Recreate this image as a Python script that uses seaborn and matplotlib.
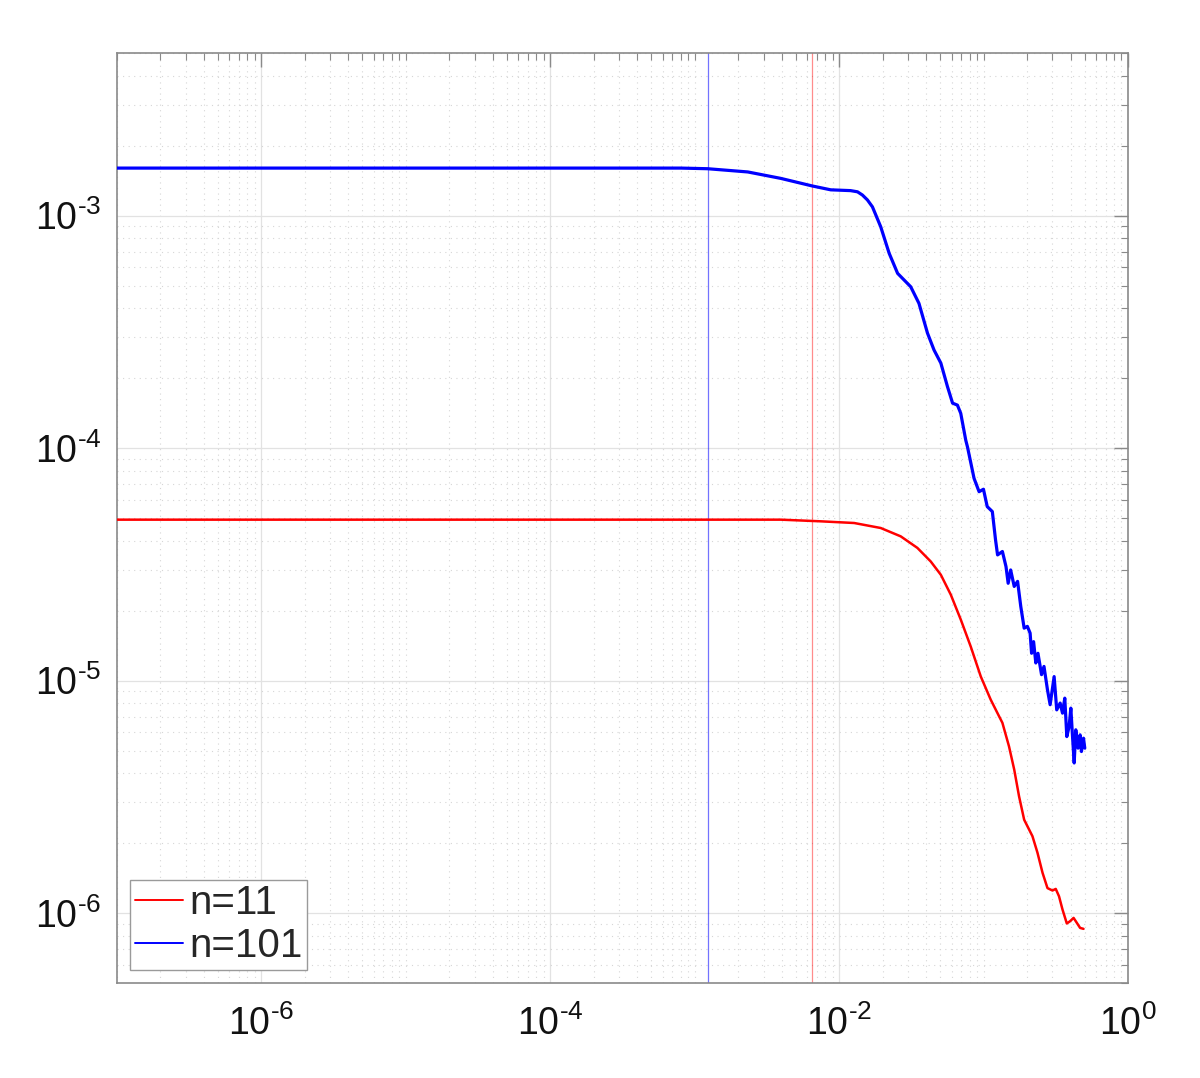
import numpy as np
import pandas as pd
import matplotlib
matplotlib.use("Agg")
import matplotlib.pyplot as plt
import seaborn as sns
from matplotlib.lines import Line2D
from matplotlib.ticker import LogLocator, NullFormatter, FixedLocator, FuncFormatter

# values (log-log)
x_n11 = [1e-7, 3.94e-3, 7.46e-3, 1.27e-2, 1.94e-2, 2.67e-2, 3.48e-2, 4.31e-2,
         5.06e-2, 5.93e-2, 6.95e-2, 8.15e-2, 9.57e-2, 0.112, 0.128, 0.135, 0.150,
         0.163, 0.176, 0.191, 0.218, 0.236, 0.256, 0.277, 0.300, 0.316, 0.333,
         0.352, 0.377, 0.397, 0.420, 0.442, 0.466, 0.492]
y_n11 = [4.92e-5, 4.92e-5, 4.84e-5, 4.76e-5, 4.53e-5, 4.17e-5, 3.72e-5, 3.25e-5,
         2.85e-5, 2.34e-5, 1.83e-5, 1.40e-5, 1.04e-5, 8.28e-6, 7.02e-6, 6.58e-6,
         5.21e-6, 4.14e-6, 3.18e-6, 2.52e-6, 2.14e-6, 1.82e-6, 1.49e-6, 1.28e-6,
         1.25e-6, 1.27e-6, 1.18e-6, 1.035e-6, 9.02e-7, 9.22e-7, 9.53e-7, 9.08e-7,
         8.63e-7, 8.55e-7]

x_n101 = [1e-7, 8.0e-4, 1.23e-3, 2.33e-3, 3.94e-3, 6.53e-3, 8.75e-3, 1.20e-2,
          1.34e-2, 1.45e-2, 1.57e-2, 1.70e-2, 1.94e-2, 2.22e-2, 2.54e-2, 3.13e-2,
          3.57e-2, 4.09e-2, 4.54e-2, 5.06e-2, 5.62e-2, 6.10e-2, 6.59e-2, 6.95e-2,
          7.53e-2, 7.74e-2, 8.59e-2, 9.31e-2, 9.98e-2, 0.106, 0.115, 0.121, 0.125,
          0.135, 0.143, 0.148, 0.154, 0.163, 0.172, 0.181, 0.191, 0.201, 0.210,
          0.215, 0.222, 0.230, 0.238, 0.252, 0.262, 0.277, 0.289, 0.308, 0.321,
          0.339, 0.352, 0.365, 0.377, 0.391, 0.402, 0.413, 0.424, 0.435, 0.451,
          0.466, 0.476, 0.492, 0.502]
y_n101 = [1.6e-3, 1.6e-3, 1.59e-3, 1.54e-3, 1.445e-3, 1.34e-3, 1.29e-3, 1.28e-3,
          1.265e-3, 1.225e-3, 1.167e-3, 1.09e-3, 8.95e-4, 6.88e-4, 5.64e-4,
          4.94e-4, 4.19e-4, 3.12e-4, 2.64e-4, 2.32e-4, 1.84e-4, 1.56e-4, 1.53e-4,
          1.41e-4, 1.08e-4, 1.01e-4, 7.41e-5, 6.49e-5, 6.65e-5, 5.60e-5, 5.33e-5,
          4.03e-5, 3.47e-5, 3.59e-5, 3.09e-5, 2.62e-5, 2.99e-5, 2.54e-5, 2.67e-5,
          2.08e-5, 1.68e-5, 1.71e-5, 1.60e-5, 1.31e-5, 1.47e-5, 1.19e-5, 1.31e-5,
          1.06e-5, 1.15e-5, 9.12e-6, 7.87e-6, 1.04e-5, 7.48e-6, 8.0e-6, 7.24e-6,
          8.40e-6, 5.74e-6, 6.34e-6, 7.61e-6, 5.74e-6, 4.42e-6, 6.14e-6, 5.12e-6,
          5.84e-6, 4.95e-6, 5.65e-6, 5.12e-6]

cutoff_n11 = 6.52e-3
cutoff_n101 = 1.23e-3
labels = ["n=11", "n=101"]
colors = {"n=11": "red", "n=101": "blue"}
widths = {"n=11": 1.8, "n=101": 2.3}

df = pd.concat([
    pd.DataFrame({"x": x_n11, "y": y_n11, "n": labels[0]}),
    pd.DataFrame({"x": x_n101, "y": y_n101, "n": labels[1]}),
], ignore_index=True)

sns.set_style("white")
plt.rcParams["font.family"] = ["Liberation Sans", "DejaVu Sans"]
plt.rcParams["mathtext.fontset"] = "custom"
plt.rcParams["mathtext.rm"] = "Liberation Sans"
plt.rcParams["mathtext.it"] = "Liberation Sans:italic"
plt.rcParams["mathtext.bf"] = "Liberation Sans:bold"


def pow10(v, pos):
    e = int(round(np.log10(v)))
    if e < 0:
        return r"$\mathregular{10^{\text{-}%d}}$" % (-e)
    return r"$\mathregular{10^{%d}}$" % e


fig = plt.figure(figsize=(12, 10.78), dpi=100)
ax = fig.add_axes([0.0975, 0.0881, 0.8425, 0.8627])
ax.set_xscale("log")
ax.set_yscale("log")

ax.axvline(cutoff_n101, color="blue", lw=0.9, alpha=0.55, zorder=2)
ax.axvline(cutoff_n11, color="red", lw=0.9, alpha=0.45, zorder=2)

for lab in labels:
    sns.lineplot(data=df[df["n"] == lab], x="x", y="y", color=colors[lab],
                 estimator=None, sort=False, lw=widths[lab], ax=ax, zorder=3)

ax.set_xlim(1e-7, 1e0)
ax.set_ylim(5e-7, 5e-3)

ax.xaxis.set_major_locator(FixedLocator([1e-6, 1e-4, 1e-2, 1e0]))
ax.xaxis.set_minor_locator(LogLocator(base=10, subs=np.arange(1, 10), numticks=30))
ax.yaxis.set_major_locator(LogLocator(base=10, numticks=10))
ax.yaxis.set_minor_locator(LogLocator(base=10, subs=np.arange(2, 10), numticks=30))
ax.xaxis.set_major_formatter(FuncFormatter(pow10))
ax.yaxis.set_major_formatter(FuncFormatter(pow10))
ax.xaxis.set_minor_formatter(NullFormatter())
ax.yaxis.set_minor_formatter(NullFormatter())

ax.grid(which="major", color="#e2e2e2", lw=0.9, ls="-")
ax.grid(which="minor", color="#d6d6d6", lw=0.8, ls=(0, (1, 4)))
ax.set_axisbelow(True)

for s in ax.spines.values():
    s.set_color("#8a8a8a")
    s.set_linewidth(1.2)
ax.tick_params(which="both", direction="in", top=True, right=True, colors="#8a8a8a",
               labelcolor="#111111")
ax.tick_params(which="major", length=10, width=1.0, labelsize=27)
ax.tick_params(axis="x", which="major", pad=16)
ax.tick_params(axis="y", which="major", pad=11)
ax.tick_params(which="minor", length=5, width=0.8)
ax.set_xlabel("")
ax.set_ylabel("")

handles = [Line2D([], [], color=colors[l], lw=1.4) for l in labels]
leg = ax.legend(handles, labels, loc="lower left", fontsize=29, frameon=True,
                fancybox=False, framealpha=1, edgecolor="#9a9a9a",
                handlelength=1.2, handletextpad=0.15, labelspacing=0.12,
                borderpad=0.12, borderaxespad=0.32)
leg.get_frame().set_linewidth(1.0)

fig.savefig("out.png", dpi=100)
